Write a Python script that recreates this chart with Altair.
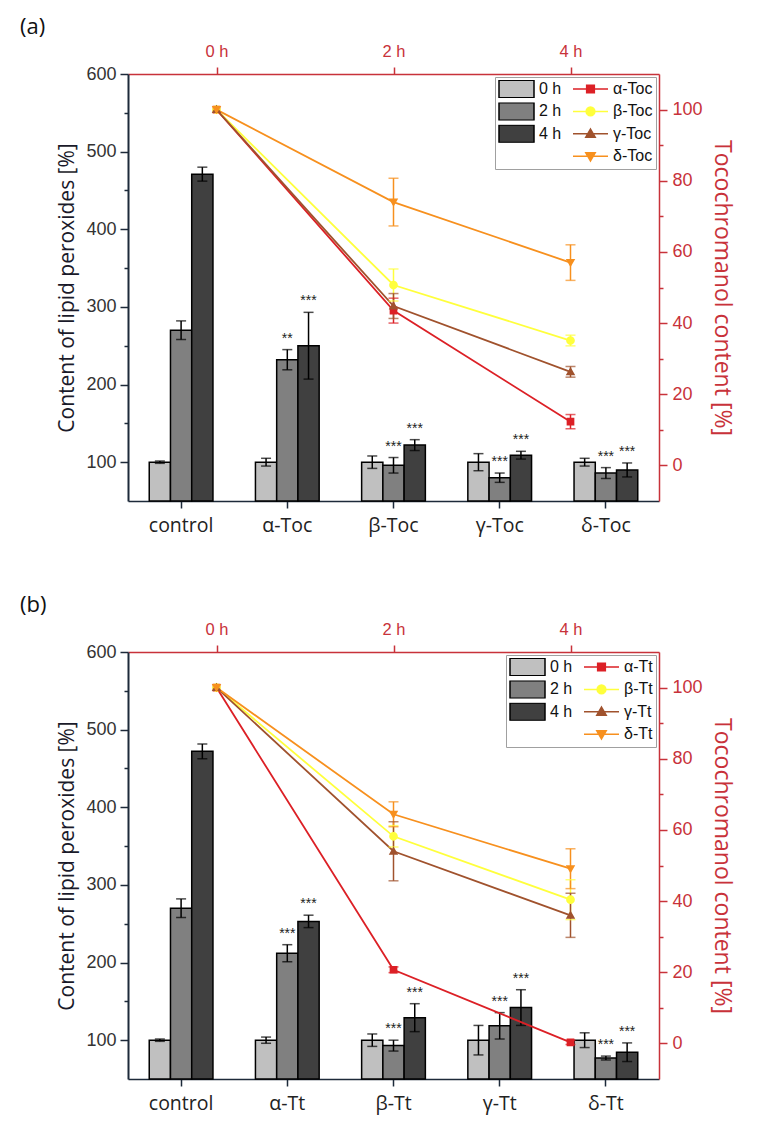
import altair as alt
import pandas as pd

HOURS = [0, 2, 4]
TIMES = ["0 h", "2 h", "4 h"]

# ---------- panel (a) ----------
A_CATS = ["control", "α-Toc", "β-Toc", "γ-Toc", "δ-Toc"]
A_BAR_0H = [100, 100, 100, 100, 100]
A_BAR_2H = [270, 232, 96, 80, 86]
A_BAR_4H = [471, 250, 122, 109, 90]
A_ERR_0H = [1.5, 5, 8, 11, 5]
A_ERR_2H = [12, 13, 10, 6, 7]
A_ERR_4H = [9, 43, 7, 5, 9]
A_SIG_0H = ["", "", "", "", ""]
A_SIG_2H = ["", "**", "***", "***", "***"]
A_SIG_4H = ["", "***", "***", "***", "***"]
A_SERIES = ["α-Toc", "β-Toc", "γ-Toc", "δ-Toc"]
A_ALPHA = [100, 43.5, 12.3]
A_ALPHA_ERR = [0, 3.5, 2]
A_BETA = [100, 50.7, 35.1]
A_BETA_ERR = [0, 4.5, 1.5]
A_GAMMA = [100, 44.8, 26.3]
A_GAMMA_ERR = [0, 3.5, 1.5]
A_DELTA = [100, 74, 57]
A_DELTA_ERR = [0, 6.7, 5]

# ---------- panel (b) ----------
B_CATS = ["control", "α-Tt", "β-Tt", "γ-Tt", "δ-Tt"]
B_BAR_0H = [100, 100, 100, 100, 100]
B_BAR_2H = [270, 212, 93, 118.5, 77]
B_BAR_4H = [472, 253, 129, 142, 84.5]
B_ERR_0H = [1.5, 4, 8, 19, 9.5]
B_ERR_2H = [12, 11, 7, 17, 2.5]
B_ERR_4H = [9.5, 8, 18, 23, 12]
B_SIG_0H = ["", "", "", "", ""]
B_SIG_2H = ["", "***", "***", "***", "***"]
B_SIG_4H = ["", "***", "***", "***", "***"]
B_SERIES = ["α-Tt", "β-Tt", "γ-Tt", "δ-Tt"]
B_ALPHA = [100, 20.7, 0.3]
B_ALPHA_ERR = [0, 0.8, 0.6]
B_BETA = [100, 58.2, 40.4]
B_BETA_ERR = [0, 3, 5.6]
B_GAMMA = [100, 54, 36]
B_GAMMA_ERR = [0, 8.3, 6.2]
B_DELTA = [100, 64.4, 49.1]
B_DELTA_ERR = [0, 3.5, 5.6]

# ---------- styles ----------
GRAYS = ["#c0c0c0", "#808080", "#404040"]
LINE_COLORS = ["#dc2026", "#ffff3c", "#a0522d", "#f7901e"]
RED_AXIS = "#c8323a"
DARK = "#1d2a3a"
TICK_FONT = "Liberation Sans"
TEXT_FONT = "Open Sans"

RECT = "M-1,-0.5H1V0.5H-1Z"
SQ = "M-1,0H1M-0.22,-0.22H0.22V0.22H-0.22Z"
CIRC = "M-1,0H1M-0.25,0A0.25,0.25 0 1,0 0.25,0A0.25,0.25 0 1,0 -0.25,0Z"
TRI_UP = "M-1,0H1M0,-0.27L0.27,0.2H-0.27Z"
TRI_DN = "M-1,0H1M0,0.27L0.27,-0.2H-0.27Z"
BLANK = "M0,0Z"


def bar_frame(cats, vals, errs, sigs):
    rows = []
    for t, vv, ee, ss in zip(TIMES, vals, errs, sigs):
        for c, v, e, s in zip(cats, vv, ee, ss):
            rows.append(dict(cat=c, key=t, val=v, lo=v - e, hi=v + e, sig=s))
    return pd.DataFrame(rows)


def line_frame(series, vals, errs):
    rows = []
    for name, vv, ee in zip(series, vals, errs):
        for h, v, e in zip(HOURS, vv, ee):
            rows.append(dict(hour=h, key=name, val=v, lo=v - e, hi=v + e, err=e))
    return pd.DataFrame(rows)


def panel(label, cats, bdf, ldf, series):
    # legend entries are laid out column by column (2 columns of 4)
    keys = ["0 h", "2 h", "4 h", " "] + list(series)
    fill_sc = alt.Scale(domain=keys, range=GRAYS + ["transparent"] + LINE_COLORS)
    stroke_sc = alt.Scale(domain=keys, range=["black", "black", "black", "transparent"] + LINE_COLORS)
    shape_sc = alt.Scale(domain=keys, range=[RECT, RECT, RECT, BLANK, SQ, CIRC, TRI_UP, TRI_DN])
    leg = alt.Legend(title=None)

    xs = alt.Scale(domain=cats, paddingInner=0.4, paddingOuter=0.2)
    ys = alt.Scale(domain=[50, 600], nice=False, zero=False)
    x_axis = alt.Axis(orient="bottom", labelAngle=0, labelFont=TEXT_FONT, labelFontSize=19.5,
                      labelColor="#222222", domainColor=DARK, domainWidth=1.5, tickColor=DARK,
                      tickWidth=1.5, tickSize=7, labelPadding=8, grid=False)
    y_axis = alt.Axis(orient="left", values=list(range(100, 601, 50)),
                      labelExpr="datum.value % 100 === 0 ? datum.label : ''",
                      tickSize={"condition": {"test": "datum.value % 100 === 0", "value": 8}, "value": 4},
                      labelFont=TICK_FONT, labelFontSize=18, labelColor="#333333",
                      domainColor=DARK, domainWidth=2, tickColor=DARK, tickWidth=1.5,
                      labelPadding=4, labelOverlap=False, grid=False,
                      titleFont=TEXT_FONT, titleFontSize=21, titleFontWeight="normal",
                      titleColor="#1a1a2a", titlePadding=8)
    y_title = "Content of lipid peroxides [%]"
    xoff = alt.XOffset("key:N", sort=TIMES, scale=alt.Scale(domain=TIMES))
    xb = alt.X("cat:N", sort=cats, scale=xs, axis=x_axis, title=None)

    def yb(field):
        return alt.Y(field, scale=ys, axis=y_axis, title=y_title)

    bars = alt.Chart(bdf).mark_bar(strokeWidth=1.5).encode(
        x=xb, xOffset=xoff, y=yb("val:Q"), y2=alt.datum(50),
        fill=alt.Fill("key:N", scale=fill_sc, legend=leg),
        stroke=alt.Stroke("key:N", scale=stroke_sc, legend=leg),
    )
    err_rule = alt.Chart(bdf).mark_rule(color="black", strokeWidth=1.5).encode(
        x=xb, xOffset=xoff, y=yb("lo:Q"), y2="hi:Q")
    cap_hi = alt.Chart(bdf).mark_tick(color="black", thickness=1.5, size=10, orient="horizontal").encode(
        x=xb, xOffset=xoff, y=yb("hi:Q"))
    cap_lo = alt.Chart(bdf).mark_tick(color="black", thickness=1.5, size=10, orient="horizontal").encode(
        x=xb, xOffset=xoff, y=yb("lo:Q"))
    stars = alt.Chart(bdf).mark_text(fontSize=14, dy=-11, font=TICK_FONT, color="#222222").encode(
        x=xb, xOffset=xoff, y=yb("hi:Q"), text="sig:N")
    bar_group = alt.layer(bars, err_rule, cap_hi, cap_lo, stars)

    xq = alt.Scale(domain=[-1, 5], nice=False, zero=False)
    yr = alt.Scale(domain=[-10, 110], nice=False, zero=False)
    top_axis = alt.Axis(orient="top", values=HOURS, labelExpr="datum.value + ' h'",
                        labelFont=TICK_FONT, labelFontSize=16.5, labelColor=RED_AXIS,
                        domainColor=RED_AXIS, domainWidth=1.5, tickColor=RED_AXIS, tickWidth=1.5,
                        tickSize=7, labelPadding=8, grid=False)
    right_axis = alt.Axis(orient="right", values=list(range(0, 101, 10)),
                          labelExpr="datum.value % 20 === 0 ? datum.label : ''",
                          tickSize={"condition": {"test": "datum.value % 20 === 0", "value": 8}, "value": 4},
                          labelFont=TICK_FONT, labelFontSize=18, labelColor=RED_AXIS,
                          domainColor=RED_AXIS, domainWidth=1.5, tickColor=RED_AXIS, tickWidth=1.5,
                          labelPadding=5, labelOverlap=False, grid=False,
                          titleFont=TEXT_FONT, titleFontSize=23, titleFontWeight="normal",
                          titleColor=RED_AXIS, titlePadding=7)
    r_title = "Tocochromanol content [%]"
    xl = alt.X("hour:Q", scale=xq, axis=top_axis, title=None)

    def yl(field):
        return alt.Y(field, scale=yr, axis=right_axis, title=r_title)

    lines = alt.Chart(ldf).mark_line(strokeWidth=1.8).encode(
        x=xl, y=yl("val:Q"),
        stroke=alt.Stroke("key:N", scale=stroke_sc, legend=leg),
    )
    l_rule = alt.Chart(ldf).transform_filter("datum.err > 0").mark_rule(strokeWidth=1.5).encode(
        x=xl, y=yl("lo:Q"), y2="hi:Q",
        stroke=alt.Stroke("key:N", scale=stroke_sc, legend=leg))
    l_cap_hi = alt.Chart(ldf).transform_filter("datum.err > 0").mark_tick(
        thickness=1.5, size=10, orient="horizontal").encode(
        x=xl, y=yl("hi:Q"), fill=alt.Fill("key:N", scale=fill_sc, legend=leg))
    l_cap_lo = alt.Chart(ldf).transform_filter("datum.err > 0").mark_tick(
        thickness=1.5, size=10, orient="horizontal").encode(
        x=xl, y=yl("lo:Q"), fill=alt.Fill("key:N", scale=fill_sc, legend=leg))
    points = alt.Chart(ldf).mark_point(filled=True, size=1225, opacity=1).encode(
        x=xl, y=yl("val:Q"),
        fill=alt.Fill("key:N", scale=fill_sc, legend=leg),
        shape=alt.Shape("key:N", scale=shape_sc, legend=leg),
    )
    line_group = alt.layer(lines, l_rule, l_cap_hi, l_cap_lo, points)

    return alt.layer(bar_group, line_group).resolve_scale(
        x="independent", y="independent"
    ).properties(
        width=531, height=427,
        title=alt.TitleParams(label, anchor="start", frame="group", dx=-108, offset=4,
                              fontSize=22, font=TEXT_FONT, fontWeight="normal", color="#111111"),
    )


a_bars = bar_frame(A_CATS, [A_BAR_0H, A_BAR_2H, A_BAR_4H], [A_ERR_0H, A_ERR_2H, A_ERR_4H],
                   [A_SIG_0H, A_SIG_2H, A_SIG_4H])
a_lines = line_frame(A_SERIES, [A_ALPHA, A_BETA, A_GAMMA, A_DELTA],
                     [A_ALPHA_ERR, A_BETA_ERR, A_GAMMA_ERR, A_DELTA_ERR])
b_bars = bar_frame(B_CATS, [B_BAR_0H, B_BAR_2H, B_BAR_4H], [B_ERR_0H, B_ERR_2H, B_ERR_4H],
                   [B_SIG_0H, B_SIG_2H, B_SIG_4H])
b_lines = line_frame(B_SERIES, [B_ALPHA, B_BETA, B_GAMMA, B_DELTA],
                     [B_ALPHA_ERR, B_BETA_ERR, B_GAMMA_ERR, B_DELTA_ERR])

pa = panel("(a)", A_CATS, a_bars, a_lines, A_SERIES)
pb = panel("(b)", B_CATS, b_bars, b_lines, B_SERIES)

chart = alt.vconcat(pa, pb, spacing=59).resolve_scale(
    fill="independent", stroke="independent", shape="independent"
).properties(
    padding={"left": 12, "top": 8, "right": 9, "bottom": 8}
).configure_view(stroke=None).configure_legend(
    orient="top-right", offset=3, columns=2, symbolSize=1225, clipHeight=18,
    symbolStrokeWidth=1.5, symbolFillColor="white", symbolStrokeColor="black",
    labelFont=TICK_FONT, labelFontSize=16, labelColor="#111111", labelOffset=4,
    rowPadding=4.4, columnPadding=10, padding=3, strokeColor="#a0a0a0",
    fillColor="white", symbolOpacity=1,
)

chart.save("out.html", embed_options={"renderer": "svg", "actions": False})
